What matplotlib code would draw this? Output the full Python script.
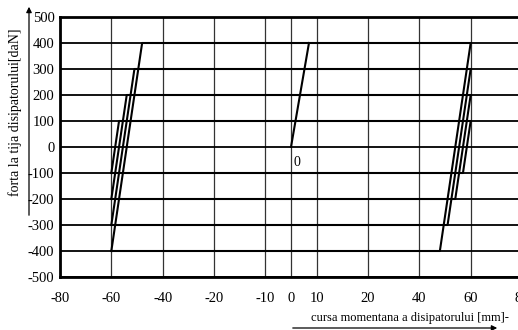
import numpy as np
import matplotlib
matplotlib.use('Agg')
import matplotlib.pyplot as plt

plt.rcParams['font.family'] = ['Liberation Serif', 'DejaVu Serif']

# x axis as drawn: ticks not evenly spaced, grid cells are
x_ticks = [-80, -60, -40, -20, -10, 0, 10, 20, 40, 60, 80]
x_cells = [0, 1, 2, 3, 4, 4.5, 5, 6, 7, 8, 9]
y_ticks = [500, 400, 300, 200, 100, 0, -100, -200, -300, -400, -500]

# hysteresis loops: force level, upper-left and lower-right corner x
forces = [100, 200, 300, 400]
amp = 60
top_left_x = [-57, -54, -51, -48]
bot_right_x = [57, 54, 51, 48]
# first loading branch
load_x = [0, 7]
load_f = [0, 400]

xv = np.array([-100] + x_ticks + [100], dtype=float)
pv = np.array([-1] + x_cells + [10], dtype=float)

def fwd(x):
    return np.interp(x, xv, pv)

def inv(p):
    return np.interp(p, pv, xv)

fig = plt.figure(figsize=(5.18, 3.30), dpi=100)
ax = fig.add_axes([60/518, 53/330, 462/518, 260/330])
ax.set_xscale('function', functions=(fwd, inv))
ax.set_xlim(-80, 80)
ax.set_ylim(-500, 500)

ax.set_xticks(x_ticks)
ax.set_xticklabels([str(t) for t in x_ticks])
ax.set_yticks(y_ticks)
ax.set_yticklabels([str(t) for t in y_ticks])
ax.tick_params(length=0, labelsize=10.5)
ax.tick_params(axis='x', pad=11)
ax.tick_params(axis='y', pad=4)

for t in x_ticks:
    ax.axvline(t, color='#333333', lw=0.9, zorder=1)
for t in y_ticks:
    ax.axhline(t, color='black', lw=1.3, zorder=1)

for F, xl, xr in zip(forces, top_left_x, bot_right_x):
    px = [-amp, xl, amp, xr, -amp]
    py = [-F, F, F, -F, -F]
    ax.plot(px, py, color='black', lw=1.5, zorder=3)
ax.plot(load_x, load_f, color='black', lw=1.5, zorder=3)
ax.annotate('0', xy=(0, 0), xytext=(3, -19), textcoords='offset pixels',
            fontsize=10)

for s in ['left', 'bottom', 'top']:
    ax.spines[s].set_linewidth(2)
ax.spines['right'].set_linewidth(1)

# axis titles with arrows, as in the drawing
fig.text(15/518, 1 - 112/330, 'forta la tija disipatorului[daN]', rotation=90,
         ha='center', va='center', fontsize=10)
fig.add_artist(matplotlib.patches.FancyArrowPatch(
    (29/518, 1 - 218/330), (29/518, 1 - 4/330), transform=fig.transFigure,
    arrowstyle='-|>', mutation_scale=8, color='black', lw=0.9))
fig.text(311/518, 1 - 318/330, 'cursa momentana a disipatorului [mm]-',
         ha='left', va='center', fontsize=9)
fig.add_artist(matplotlib.patches.FancyArrowPatch(
    (290/518, 1 - 328/330), (500/518, 1 - 328/330), transform=fig.transFigure,
    arrowstyle='-|>', mutation_scale=8, color='black', lw=0.9))

plt.savefig('out.png', dpi=100)
